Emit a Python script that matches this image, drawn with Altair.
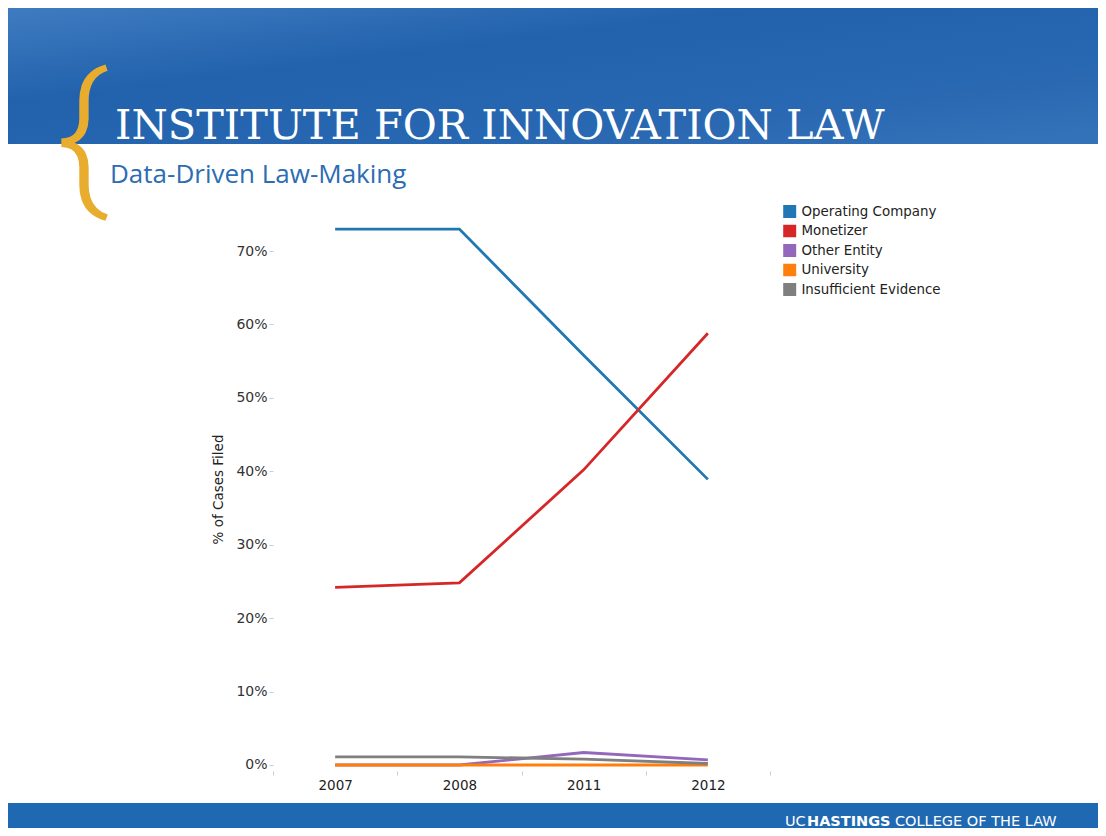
import altair as alt
import pandas as pd

# ---- data ----
years = ["2007", "2008", "2011", "2012"]
series = ["Operating Company", "Monetizer", "Other Entity", "University", "Insufficient Evidence"]
operating = [0.730, 0.730, 0.558, 0.389]
monetizer = [0.242, 0.248, 0.402, 0.588]
other_entity = [0.000, 0.000, 0.017, 0.007]
university = [0.000, 0.000, 0.000, 0.000]
insufficient = [0.011, 0.011, 0.008, 0.002]
colors = ["#1f77b4", "#d62728", "#9467bd", "#ff7f0e", "#7f7f7f"]
y_ticks = [0, 0.1, 0.2, 0.3, 0.4, 0.5, 0.6, 0.7]

rows = []
for name, vals in zip(series, [operating, monetizer, other_entity, university, insufficient]):
    for yr, v in zip(years, vals):
        rows.append({"Year": yr, "Type": name, "Share": v})
df = pd.DataFrame(rows)

lines = alt.Chart(df).mark_line(strokeWidth=2.8).encode(
    x=alt.X(
        "Year:O",
        bandPosition=0.5,
        scale=alt.Scale(type="band", domain=years, paddingInner=0, paddingOuter=0),
        axis=alt.Axis(
            title=None, labelAngle=0, tickBand="extent", domain=False, grid=False,
            tickColor="#cccccc", tickSize=4, labelPadding=3,
            labelFont="DejaVu Sans", labelFontSize=13.5, labelColor="#222222",
        ),
    ),
    y=alt.Y(
        "Share:Q",
        scale=alt.Scale(domain=[-0.0082, 0.76], nice=False, zero=False),
        axis=alt.Axis(
            values=y_ticks, format=".0%", title="% of Cases Filed", grid=False, domain=False,
            tickColor="#cccccc", tickSize=4, labelPadding=2,
            labelFont="DejaVu Sans", labelFontSize=14, labelColor="#333333",
            titleFont="DejaVu Sans", titleFontSize=13.5, titleFontWeight="normal",
            titleColor="#222222", titlePadding=10,
        ),
    ),
    color=alt.Color(
        "Type:N",
        sort=series,
        scale=alt.Scale(domain=series, range=colors),
        legend=alt.Legend(
            title=None, orient="none", legendX=510, legendY=-2,
            symbolType="square", symbolSize=42, symbolStrokeWidth=6.5, symbolOpacity=1,
            labelFont="DejaVu Sans", labelFontSize=13.4, labelColor="#222222",
            labelOffset=5, rowPadding=5.5, clipHeight=13,
        ),
    ),
)

base = alt.Chart(pd.DataFrame({"k": [0]}))

banner_fill = alt.LinearGradient(
    gradient="linear", x1=0, x2=1, y1=0, y2=1,
    stops=[
        alt.GradientStop(offset=0.0, color="#3f7bc0"),
        alt.GradientStop(offset=0.35, color="#2262ad"),
        alt.GradientStop(offset=0.7, color="#2867b1"),
        alt.GradientStop(offset=1.0, color="#3573b9"),
    ],
)
banner = base.mark_rect(color=banner_fill).encode(
    x=alt.value(-265), x2=alt.value(825), y=alt.value(-199), y2=alt.value(-63)
)
footer = base.mark_rect(color="#1f69b2").encode(
    x=alt.value(-265), x2=alt.value(825), y=alt.value(596), y2=alt.value(621)
)
brace = base.mark_text(
    text="{", font="Roboto", fontWeight=300, fontSize=159, color="#e8ad2f",
    align="left", baseline="alphabetic",
).encode(x=alt.value(-217), y=alt.value(-18))
title = base.mark_text(
    text="INSTITUTE FOR INNOVATION LAW", font="DejaVu Serif", fontSize=41.5,
    color="white", align="left", baseline="alphabetic",
).encode(x=alt.value(-158), y=alt.value(-68))
subtitle = base.mark_text(
    text="Data-Driven Law-Making", font="Open Sans", fontSize=26,
    color="#2c6db3", align="left", baseline="alphabetic",
).encode(x=alt.value(-163), y=alt.value(-24))
f1 = base.mark_text(
    text="UC", font="DejaVu Sans", fontSize=14.5, color="white",
    align="left", baseline="alphabetic",
).encode(x=alt.value(512), y=alt.value(619))
f2 = base.mark_text(
    text="HASTINGS", font="DejaVu Sans", fontSize=14.5, fontWeight="bold", color="white",
    align="left", baseline="alphabetic",
).encode(x=alt.value(534), y=alt.value(619))
f3 = base.mark_text(
    text="COLLEGE OF THE LAW", font="DejaVu Sans", fontSize=14.5, color="white",
    align="left", baseline="alphabetic",
).encode(x=alt.value(622), y=alt.value(619))

chart = alt.layer(banner, footer, brace, title, subtitle, f1, f2, f3, lines).properties(
    width=497,
    height=564,
    padding={"left": 265, "top": 199, "right": 328, "bottom": 57},
    autosize=alt.AutoSizeParams(type="none"),
    background="white",
).configure_view(stroke=None)

chart.save("out.html", embed_options={"renderer": "svg", "actions": False})
